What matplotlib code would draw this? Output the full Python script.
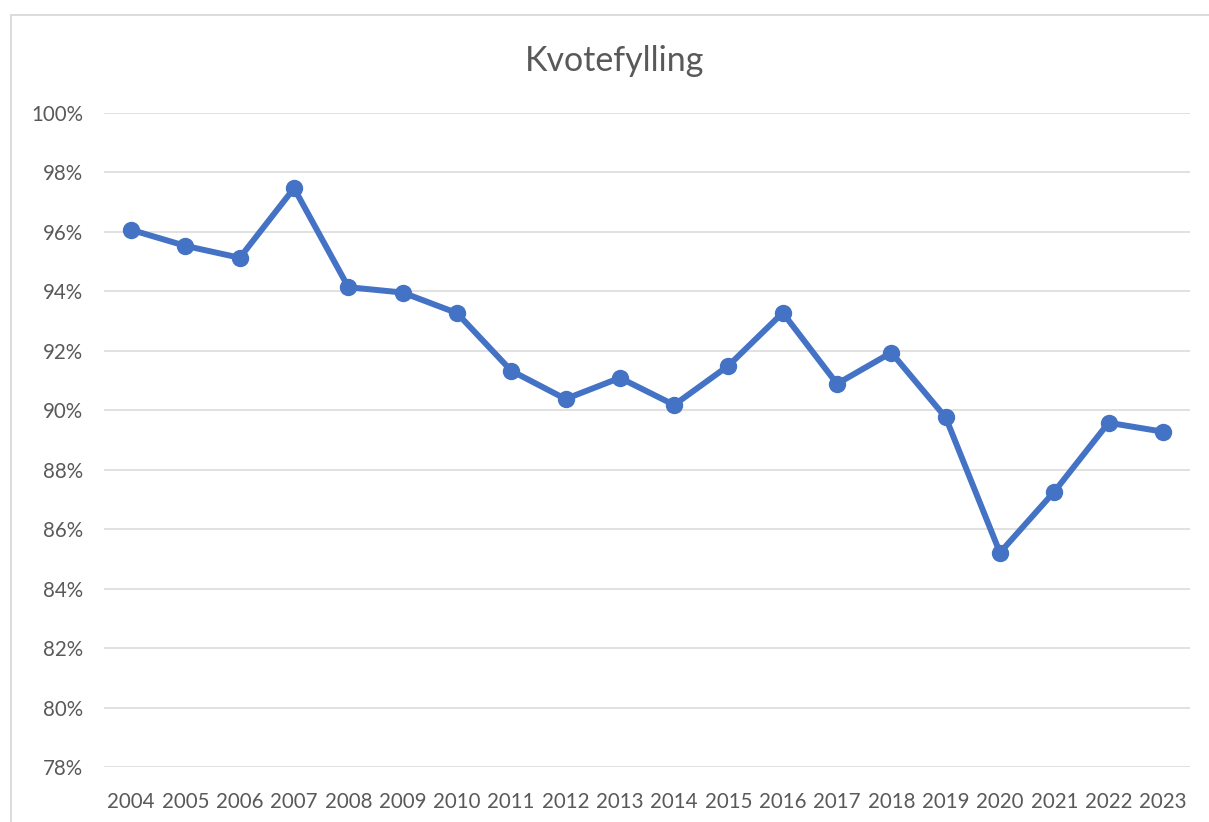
import matplotlib
matplotlib.use("Agg")
import matplotlib.pyplot as plt
from matplotlib.patches import Rectangle

# Data (percent)
years = [str(y) for y in range(2004, 2024)]
kvotefylling = [96.07, 95.53, 95.13, 97.47, 94.14, 93.96, 93.27, 91.33, 90.38, 91.09,
                90.18, 91.50, 93.28, 90.89, 91.94, 89.76, 85.21, 87.26, 89.58, 89.28]
y_ticks = list(range(78, 101, 2))

plt.rcParams["font.family"] = ["Lato", "DejaVu Sans"]
text_color = "#595959"
grid_color = "#D9D9D9"
line_color = "#4472C4"

fig = plt.figure(figsize=(12.09, 8.22), dpi=100)
ax = fig.add_axes([104 / 1209, 1 - 767 / 822, (1190 - 104) / 1209, (767 - 113) / 822])

# Outer chart border (cropped at the right and bottom like the screenshot)
fig.patches.append(Rectangle((11 / 1209, -0.05), 1.2, 1 - 15 / 822 + 0.05,
                             transform=fig.transFigure, fill=False,
                             edgecolor=grid_color, linewidth=1.3, clip_on=False))

x = list(range(len(years)))
ax.plot(x, kvotefylling, color=line_color, linewidth=4.3, marker="o",
        markersize=11.5, solid_joinstyle="round", zorder=3)

ax.set_xlim(-0.5, len(years) - 0.5)
ax.set_ylim(78, 100)
ax.set_yticks(y_ticks)
ax.set_yticklabels([f"{v}%" for v in y_ticks])
ax.set_xticks(x)
ax.set_xticklabels(years)

ax.grid(axis="y", color=grid_color, linewidth=1.1)
ax.set_axisbelow(True)
for side in ["top", "right", "left", "bottom"]:
    ax.spines[side].set_visible(False)
ax.tick_params(axis="both", length=0, labelsize=14.8, colors=text_color)
ax.tick_params(axis="y", pad=15)
ax.tick_params(axis="x", pad=18)

fig.text(615 / 1209, 1 - 61 / 822, "Kvotefylling", ha="center", va="center",
         fontsize=24.5, color=text_color)

plt.savefig("out.png", dpi=100)
